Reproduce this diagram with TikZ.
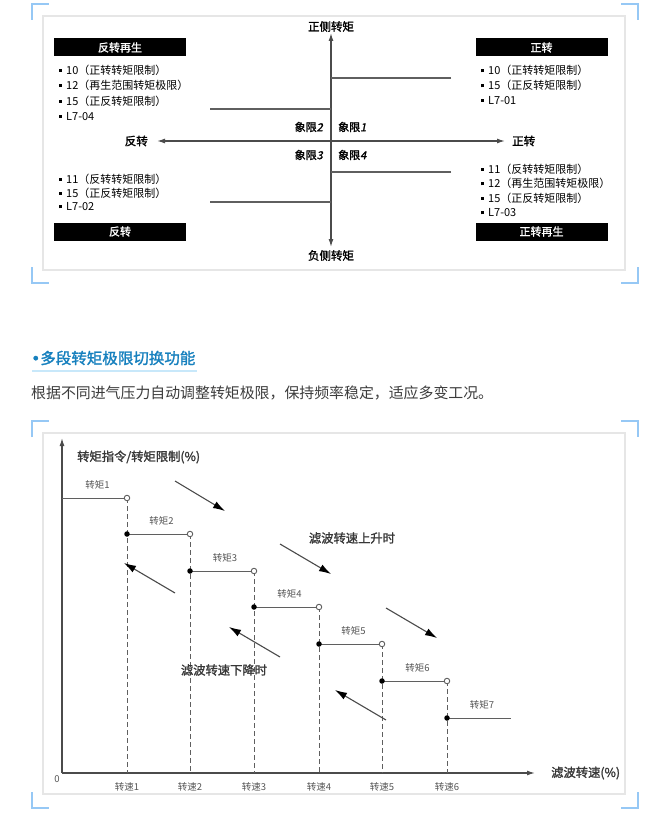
\documentclass[tikz,border=0pt]{standalone}
\usepackage{fontspec}
\setmainfont{Noto Sans CJK SC}[AutoFakeBold=1.5, AutoFakeSlant=0.2]
\newfontfamily\dotfont{DejaVu Sans}[AutoFakeBold=1.5]
\usetikzlibrary{arrows.meta}
\definecolor{framegray}{RGB}{230,230,230}
\definecolor{cornerblue}{RGB}{150,200,245}
\definecolor{axisgray}{RGB}{75,75,75}
\definecolor{stepgray}{RGB}{95,95,95}
\definecolor{labgray}{RGB}{85,85,85}
\definecolor{ink}{RGB}{55,55,55}
\definecolor{headblue}{RGB}{22,128,190}
\definecolor{underblue}{RGB}{200,232,250}
\definecolor{bodygray}{RGB}{60,60,60}
\newcommand{\sqbullet}{\raisebox{2.5pt}{\rule{3pt}{3pt}}\hspace{4pt}}
\tikzset{
  frame/.style={draw=framegray, line width=2pt},
  corner/.style={draw=cornerblue, line width=2pt},
  banner/.style={fill=black, text=white, font=\fontsize{11}{12}\selectfont\bfseries,
                 minimum width=132pt, minimum height=18pt, inner sep=0pt},
  entry/.style={anchor=west, font=\fontsize{11}{12}\selectfont, inner sep=0pt},
  axname/.style={font=\fontsize{11.5}{12}\selectfont\bfseries, inner sep=1pt},
  quad/.style={font=\fontsize{11}{12}\selectfont\bfseries, inner sep=0pt},
  axisline/.style={-{Latex[length=8pt,width=5pt]}, draw=axisgray, line width=1.3pt},
  bound/.style={draw=stepgray, line width=1.3pt},
  stepline/.style={draw=stepgray, line width=1pt},
  dropline/.style={draw=stepgray, line width=1pt, dash pattern=on 5pt off 3pt},
  fulldot/.style={circle, fill=black, inner sep=0pt, minimum size=5.5pt},
  hollowdot/.style={circle, draw=stepgray, fill=white, inner sep=0pt,
                    minimum size=5.5pt, line width=0.9pt},
  trend/.style={-{Latex[length=12pt,width=7.5pt,color=black]}, draw=axisgray, line width=1.1pt},
  small/.style={font=\fontsize{9.5}{10}\selectfont, text=labgray, inner sep=1pt},
  note/.style={font=\fontsize{12.3}{13}\selectfont\bfseries, text=ink, inner sep=1pt},
}

\begin{document}
\begin{tikzpicture}[x=1pt, y=-1pt]
\useasboundingbox[fill=white] (0,0) rectangle (668,824);

%% frames and blue corners
\draw[frame] (43,16) rectangle (625,270);
\draw[frame] (43,433) rectangle (625,794);
\draw[corner] (32,20) -- (32,4) -- (49,4);
\draw[corner] (621,4) -- (638,4) -- (638,20);
\draw[corner] (32,267) -- (32,283) -- (49,283);
\draw[corner] (638,267) -- (638,283) -- (621,283);
\draw[corner] (32,437) -- (32,421) -- (49,421);
\draw[corner] (621,421) -- (638,421) -- (638,437);
\draw[corner] (32,792) -- (32,808) -- (49,808);
\draw[corner] (638,792) -- (638,808) -- (621,808);

%% four-quadrant diagram
\coordinate (O) at (331,141);
\coordinate (up) at (331,33);
\coordinate (dn) at (331,247);
\coordinate (lt) at (157,141);
\coordinate (rt) at (505,141);
\draw[axisline] (O) -- (up);
\draw[axisline] (O) -- (dn);
\draw[axisline] (O) -- (lt);
\draw[axisline] (O) -- (rt);
\node[axname, above] (upl) at (up) {正侧转矩};
\node[axname, below=2pt] (dnl) at (dn) {负侧转矩};
\node[axname, left=8pt] (ltl) at (lt) {反转};
\node[axname, right=6pt] (rtl) at (rt) {正转};

% limit lines
\coordinate (q1) at (451,78);
\coordinate (q2) at (210,109);
\coordinate (q3) at (210,202);
\coordinate (q4) at (451,172);
\foreach \q in {1,2,3,4}
  \draw[bound] (q\q) -- (q\q -| O);

% quadrant names
\node[quad, anchor=east] (n2) at (323,127) {象限\textit{2}};
\node[quad, anchor=west] (n1) at (338,127) {象限\textit{1}};
\node[quad, anchor=east] (n3) at (323,155) {象限\textit{3}};
\node[quad, anchor=west] (n4) at (338,155) {象限\textit{4}};

% banners
\node[banner] (rr) at (120,47.5) {反转再生};
\node[banner] (fw) at (541.5,47.5) {正转};
\node[banner] (rv) at (120,231.5) {反转};
\node[banner] (fr) at (541.5,231.5) {正转再生};

% parameter lists
\foreach \t [count=\k] in {10（正转转矩限制）, 12（再生范围转矩极限）, 15（正反转矩限制）, L7-04}
  \node[entry] (lu\k) at (59, {54.5+\k*15.5}) {\sqbullet\t};
\foreach \t [count=\k] in {10（正转转矩限制）, 15（正反转矩限制）, L7-01}
  \node[entry] (ru\k) at (481, {56+\k*14.8}) {\sqbullet\t};
\foreach \t [count=\k] in {11（反转转矩限制）, 15（正反转矩限制）, L7-02}
  \node[entry] (ll\k) at (59, {165+\k*14}) {\sqbullet\t};
\foreach \t [count=\k] in {11（反转转矩限制）, 12（再生范围转矩极限）, 15（正反转矩限制）, L7-03}
  \node[entry] (rl\k) at (481, {154.5+\k*14.6}) {\sqbullet\t};

%% heading and text
\node[anchor=west, inner sep=0pt, font=\fontsize{15.5}{16}\selectfont\bfseries,
      text=headblue] (head) at (31,358) {{\dotfont•}多段转矩极限切换功能};
\draw[underblue, line width=2.5pt] (32,371) -- (197,371);
\node[anchor=west, inner sep=0pt, font=\fontsize{14.9}{16}\selectfont, text=bodygray]
  (body) at (31,393) {根据不同进气压力自动调整转矩极限，保持频率稳定，适应多变工况。};

%% multi-step torque chart
\coordinate (C0) at (62,773);
\coordinate (cy) at (62,438);
\coordinate (cx) at (535,773);
\draw[axisline] (C0) -- (cy);
\draw[axisline] (C0) -- (cx);
\node[note, anchor=west] (ylab) at (76,457) {转矩指令/转矩限制(\%)};
\node[note, anchor=west] (xlab) at (550,773) {滤波转速(\%)};
\node[small] (zero) at (57,779) {0};

% torque steps
\foreach \k/\xa/\xb/\yy in {1/62/127/498, 2/127/190/534, 3/190/254/571, 4/254/319/607,
                           5/319/382/644, 6/382/447/681, 7/447/511/718} {
  \coordinate (s\k) at (\xa,\yy);
  \coordinate (e\k) at (\xb,\yy);
  \draw[stepline] (s\k) -- (e\k);
  \node[small] (tq\k) at ({(\xa+\xb)/2+3}, {\yy-13}) {转矩\k};
}

% speed thresholds
\foreach \k in {1,...,6} {
  \coordinate (x\k) at (e\k |- C0);
  \draw[dropline] (e\k) -- (x\k);
  \node[hollowdot] (h\k) at (e\k) {};
  \node[small, below=8pt] (sp\k) at (x\k) {转速\k};
}
\foreach \k in {2,...,7}
  \node[fulldot] (f\k) at (s\k) {};

% trend arrows
\foreach \n/\ax/\ay/\bx/\by in {1/175/481/225/511, 2/280/544/331/574, 3/386/608/437/638} {
  \coordinate (ua\n) at (\ax,\ay);
  \coordinate (ub\n) at (\bx,\by);
  \draw[trend] (ua\n) -- (ub\n);
}
\foreach \n/\ax/\ay/\bx/\by in {1/175/593/124/563, 2/280/657/229/627, 3/386/720/335/690} {
  \coordinate (da\n) at (\ax,\ay);
  \coordinate (db\n) at (\bx,\by);
  \draw[trend] (da\n) -- (db\n);
}
\node[note] (rise) at (352,538) {滤波转速上升时};
\node[note] (fall) at (224,670) {滤波转速下降时};

\end{tikzpicture}
\end{document}
